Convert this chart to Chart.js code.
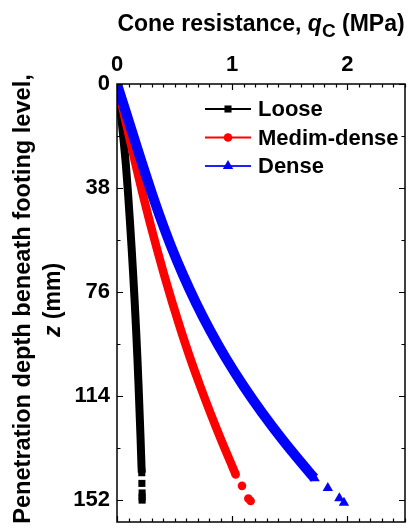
<!DOCTYPE html>
<html lang="en">
<head>
<meta charset="UTF-8">
<title>Cone resistance vs penetration depth</title>
<style>
  html, body { margin: 0; padding: 0; background: #fff; }
  #wrap { position: relative; width: 411px; height: 529px; }
</style>
</head>
<body>
<div id="wrap"><canvas id="chart"></canvas></div>
<script src="https://cdn.jsdelivr.net/npm/chart.js/dist/chart.umd.min.js"></script>
<script>
// penetration depth z (mm) and cone resistance qc (MPa)
const looseDepth = [0, 10, 20, 30, 40, 50, 60, 70, 80, 90, 100, 110, 120, 130, 140, 142];
const looseQ     = [0, 0.031, 0.056, 0.078, 0.096, 0.112, 0.127, 0.141, 0.154, 0.166, 0.177, 0.187, 0.196, 0.205, 0.213, 0.215];
const looseEndDepth = [145.9, 149.4, 150.9, 152];
const looseEndQ     = [0.216, 0.218, 0.218, 0.218];

const mediumDepth = [0, 10, 20, 30, 40, 50, 60, 70, 80, 90, 100, 110, 120, 130, 140, 142.6];
const mediumQ     = [0, 0.055, 0.110, 0.165, 0.222, 0.282, 0.345, 0.411, 0.481, 0.555, 0.634, 0.719, 0.809, 0.904, 1.004, 1.03];
const mediumEndDepth = [146.8, 151.4, 152.3];
const mediumEndQ     = [1.085, 1.14, 1.16];

const denseDepth = [0, 10, 20, 30, 40, 50, 60, 70, 80, 90, 100, 110, 120, 130, 140, 144];
const denseQ     = [0, 0.075, 0.150, 0.225, 0.303, 0.386, 0.476, 0.576, 0.686, 0.808, 0.943, 1.093, 1.258, 1.438, 1.633, 1.715];
const denseEndDepth = [147.6, 151.3, 153];
const denseEndQ     = [1.83, 1.93, 1.97];

const seriesNames = ['Loose', 'Medim-dense', 'Dense'];
const xTicks = [0, 1, 2];
const yTicks = [0, 38, 76, 114, 152];

const FONT = 'Arial, "Liberation Sans", sans-serif';

function points(depth, q) {
  return depth.map((z, i) => ({ x: q[i], y: z }));
}

function makeSeries(label, depth, q, endDepth, endQ, color, style, radius, width, order) {
  const data = points(depth, q).concat(points(endDepth, endQ));
  const lastDense = depth.length - 1;
  return {
    label: label,
    data: data,
    borderColor: color,
    backgroundColor: color,
    borderWidth: width,
    borderJoinStyle: 'round',
    pointStyle: style,
    markerSize: radius,
    pointRadius: ctx => ctx.dataIndex >= lastDense ? radius : 0,
    pointBorderWidth: 0,
    cubicInterpolationMode: 'monotone',
    clip: 0,
    order: order,
    segment: {
      borderColor: ctx => ctx.p1DataIndex > lastDense ? 'transparent' : undefined
    }
  };
}

const datasets = [
  makeSeries(seriesNames[0], looseDepth, looseQ, looseEndDepth, looseEndQ, '#000000', 'rect', 5, 8, 2),
  makeSeries(seriesNames[1], mediumDepth, mediumQ, mediumEndDepth, mediumEndQ, '#ff0000', 'circle', 4.3, 8.5, 1),
  makeSeries(seriesNames[2], denseDepth, denseQ, denseEndDepth, denseEndQ, '#0000ff', 'triangle', 6, 10, 0)
];

// box and inward ticks on all four sides
const frame = {
  id: 'frame',
  afterDatasetsDraw(chart) {
    const { ctx, chartArea: a, scales: { x, y } } = chart;
    ctx.save();
    ctx.strokeStyle = '#000';
    ctx.lineWidth = 1.5;
    ctx.strokeRect(a.left, a.top, a.right - a.left, a.bottom - a.top);
    ctx.lineWidth = 1.2;
    ctx.beginPath();
    for (let i = 0; i <= 25; i++) {
      const px = Math.round(x.getPixelForValue(i / 10)) + 0.5;
      const len = i % 10 === 0 ? 6 : 3.5;
      ctx.moveTo(px, a.top); ctx.lineTo(px, a.top + len);
      ctx.moveTo(px, a.bottom); ctx.lineTo(px, a.bottom - len);
    }
    for (let v = 0; v <= 160; v += 19) {
      const py = Math.round(y.getPixelForValue(v)) + 0.5;
      const len = v % 38 === 0 ? 6 : 3.5;
      ctx.moveTo(a.left, py); ctx.lineTo(a.left + len, py);
      ctx.moveTo(a.right, py); ctx.lineTo(a.right - len, py);
    }
    ctx.stroke();
    ctx.restore();
  }
};

// legend with line + marker, inside the plot
const legendBox = {
  id: 'legendBox',
  afterDatasetsDraw(chart) {
    const { ctx, chartArea: a } = chart;
    const colors = ['#000000', '#ff0000', '#2020ff'];
    ctx.save();
    chart.data.datasets.forEach((ds, i) => {
      const yy = a.top + 25 + i * 28.5;
      const x0 = a.left + 88, x1 = a.left + 134;
      ctx.strokeStyle = colors[i];
      ctx.lineWidth = 2;
      ctx.beginPath(); ctx.moveTo(x0, yy); ctx.lineTo(x1, yy); ctx.stroke();
      ctx.fillStyle = ds.borderColor;
      Chart.helpers.drawPoint(ctx, { pointStyle: ds.pointStyle, radius: ds.markerSize, borderWidth: 0 }, (x0 + x1) / 2, yy);
      ctx.fillStyle = '#000';
      ctx.font = 'bold 22px ' + FONT;
      ctx.textBaseline = 'middle';
      ctx.textAlign = 'left';
      ctx.fillText(ds.label, a.left + 141, yy + 1);
    });
    ctx.restore();
  }
};

// axis titles with italic symbol and subscript
const titles = {
  id: 'titles',
  afterDraw(chart) {
    const { ctx, chartArea: a } = chart;
    ctx.save();
    ctx.fillStyle = '#000';
    ctx.textBaseline = 'alphabetic';
    ctx.textAlign = 'left';
    const big = 'bold 23px ' + FONT, ital = 'italic bold 23px ' + FONT, sub = 'bold 19px ' + FONT;
    const parts = [['Cone resistance, ', big, 0], ['q', ital, 0], ['C', sub, 6], [' (MPa)', big, 0]];
    let w = 0;
    parts.forEach(p => { ctx.font = p[1]; w += ctx.measureText(p[0]).width; });
    let xx = (a.left + a.right) / 2 - w / 2;
    parts.forEach(p => { ctx.font = p[1]; ctx.fillText(p[0], xx, 31 + p[2]); xx += ctx.measureText(p[0]).width; });

    const cy = (a.top + a.bottom) / 2;
    ctx.translate(0, cy);
    ctx.rotate(-Math.PI / 2);
    ctx.textAlign = 'center';
    ctx.font = 'bold 23.6px ' + FONT;
    ctx.fillText('Penetration depth beneath footing level,', 4, 30);
    const p2 = [['z', ital], [' (mm)', big]];
    w = 0;
    p2.forEach(p => { ctx.font = p[1]; w += ctx.measureText(p[0]).width; });
    ctx.textAlign = 'left';
    xx = 3 - w / 2;
    p2.forEach(p => { ctx.font = p[1]; ctx.fillText(p[0], xx, 60); xx += ctx.measureText(p[0]).width; });
    ctx.restore();
  }
};

function noPad(s) {
  s.paddingTop = 0; s.paddingBottom = 0; s.paddingLeft = 0; s.paddingRight = 0;
}

new Chart(document.getElementById('chart'), {
  type: 'line',
  data: { datasets: datasets },
  options: {
    responsive: true,
    maintainAspectRatio: false,
    animation: false,
    layout: { padding: { left: 0, top: 0, right: 3, bottom: 7 } },
    plugins: { legend: { display: false }, tooltip: { enabled: false } },
    scales: {
      x: {
        type: 'linear',
        position: 'top',
        min: 0,
        max: 2.5,
        grid: { display: false, drawTicks: false },
        border: { display: false },
        afterBuildTicks: s => { s.ticks = xTicks.map(v => ({ value: v })); },
        afterFit: s => { s.height = 84; noPad(s); },
        ticks: { color: '#000', padding: 6, maxRotation: 0, font: { family: FONT, size: 22, weight: 'bold' } }
      },
      y: {
        type: 'linear',
        reverse: true,
        min: 0,
        max: 160,
        grid: { display: false, drawTicks: false },
        border: { display: false },
        afterBuildTicks: s => { s.ticks = yTicks.map(v => ({ value: v })); },
        afterFit: s => { s.width = 117; noPad(s); },
        ticks: { color: '#000', padding: 7, font: { family: FONT, size: 22, weight: 'bold' } }
      }
    }
  },
  plugins: [frame, legendBox, titles]
});
</script>
</body>
</html>
